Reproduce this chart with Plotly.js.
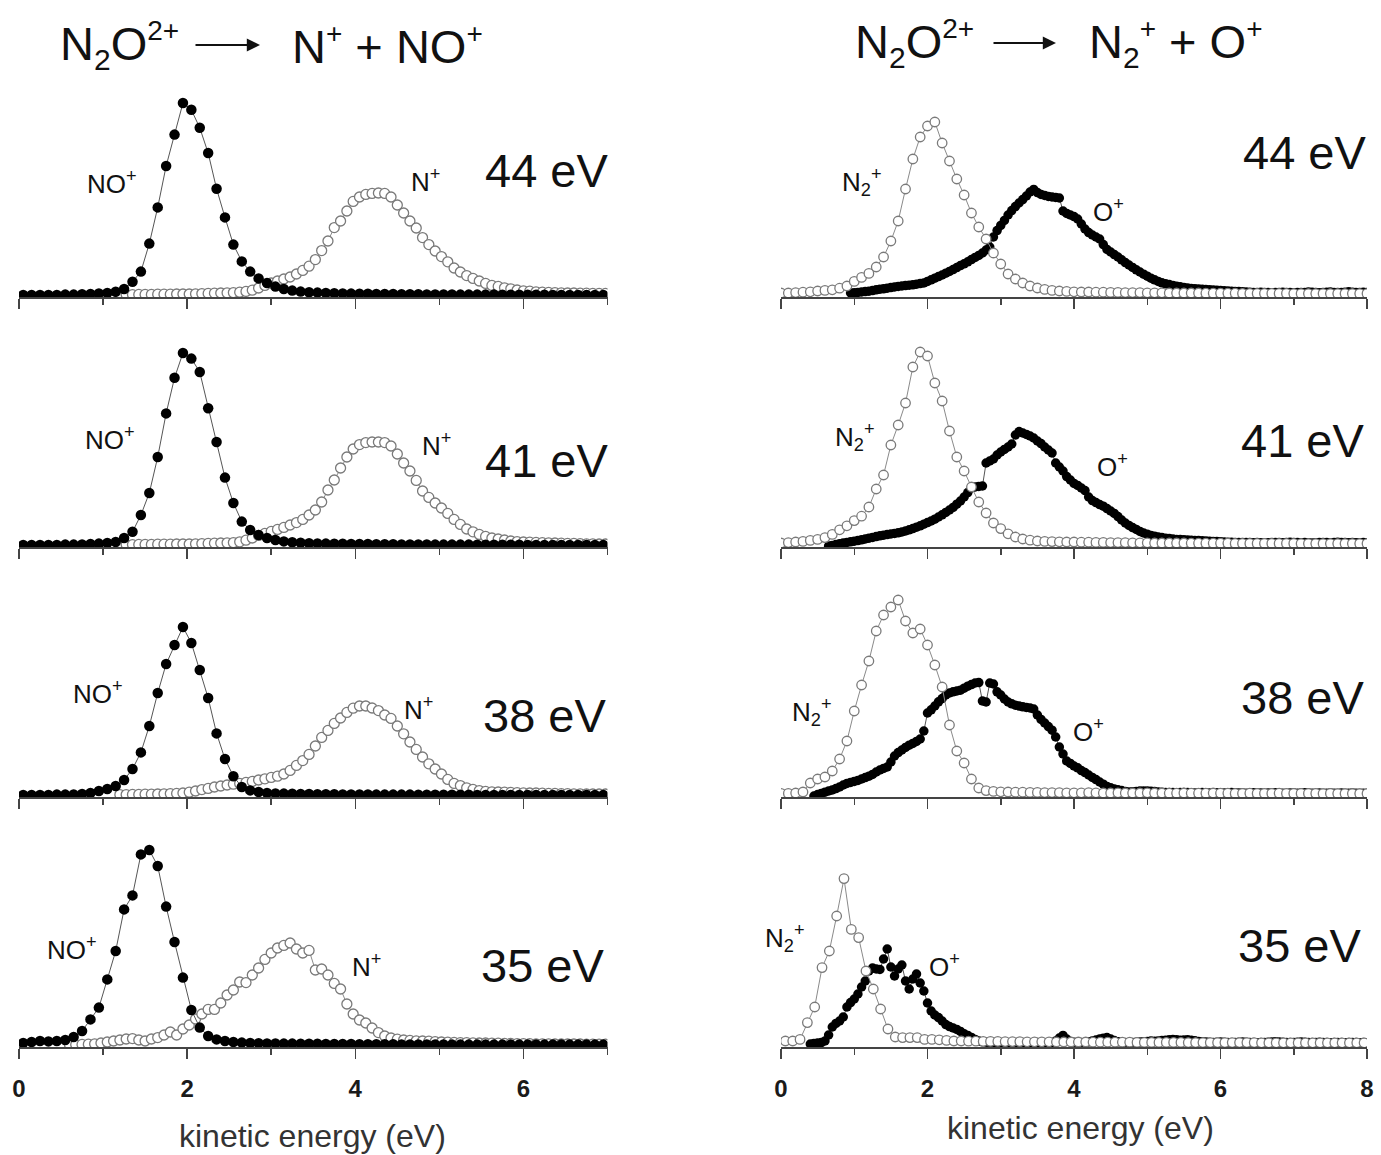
<!DOCTYPE html>
<html>
<head>
<meta charset="utf-8">
<script src="https://cdn.plot.ly/plotly-3.0.1.min.js"></script>
<style>html,body{margin:0;padding:0;background:#fff;}#chart{width:1381px;height:1155px;}</style>
</head>
<body>
<div id="chart"></div>
<script>
// ---------------- DATA ----------------
// Photon energies (eV) of the four rows, top to bottom
const photonEnergies = ["44 eV", "41 eV", "38 eV", "35 eV"];

// Left column: N2O2+ -> N+ + NO+   (intensity, arbitrary units)
// NO+ (filled): kinetic-energy grid start and step
const noX0 = 0.05, noDx = 0.1;
const no44 = [.010,.010,.010,.010,.010,.012,.012,.014,.015,.018,
  .020,.026,.040,.076,.127,.267,.448,.655,.812,.970,
  .936,.846,.720,.541,.398,.262,.178,.127,.093,.070,
  .052,.040,.032,.027,.024,.022,.020,.019,.018,.017,
  .016,.016,.015,.015,.015,.014,.014,.014,.013,.013,.013,.013,.012,.012,.012,.012,.012,.011,.011,.011,.011,.011,.011,.010,.010,.010,.010,.010,.010,.010];
const no41 = [.010,.010,.010,.010,.010,.012,.012,.013,.015,.017,
  .020,.025,.045,.076,.160,.270,.450,.668,.846,.970,
  .942,.875,.694,.525,.347,.220,.127,.085,.060,.045,
  .035,.028,.024,.021,.019,.018,.017,.016,.016,.015,
  .015,.015,.014,.014,.014,.013,.013,.013,.013,.012,.012,.012,.012,.012,.011,.011,.011,.011,.011,.011,.010,.010,.010,.010,.010,.010,.010,.010,.010,.010];
const no38 = [.010,.010,.010,.010,.012,.012,.013,.015,
  .020,.030,.040,.055,.085,.140,.223,.355,.520,.665,.760,.850,
  .770,.635,.495,.318,.190,.104,.050,.033,.025,.020,
  .018,.017,.016,.015,.015,.014,.014,.014,.013,.013,
  .013,.013,.012,.012,.012,.012,.012,.011,.011,.011,.011,.011,.011,.011,.010,.010,.010,.010,.010,.010,.010,.010,.010,.010,.010,.010,.010,.010,.010,.010];
const no35 = [.020,.025,.030,.028,.030,.035,.050,.080,.138,.197,
  .338,.480,.688,.758,.963,.985,.905,.702,.525,.347,
  .185,.097,.055,.038,.030,.025,.022,.020,.019,.018,
  .018,.017,.017,.016,.016,.016,.015,.015,.015,.015,.014,.014,.014,.014,.014,.013,.013,.013,.013,.013,.013,.012,.012,.012,.012,.012,.012,.012,.012,.012,.012,.012,.012,.012,.012,.012,.012,.012,.012,.012];

// N+ (open)
const nDx = 0.075;
const nX0 = [1.2, 1.2, 1.2, 0.6];
const n44 = [.012,.012,.012,.013,.013,.013,.014,.014,.014,.015,
  .015,.015,.016,.017,.018,.019,.020,.021,.022,.024,
  .028,.034,.045,.058,.070,.080,.090,.100,.115,.133,
  .154,.187,.232,.280,.347,.380,.430,.478,.500,.513,
  .518,.520,.518,.500,.460,.420,.380,.345,.297,.262,
  .230,.202,.176,.145,.125,.107,.093,.080,.068,.058,
  .053,.046,.041,.035,.031,.029,.026,.024,.023,.022,
  .021,.020,.020,.019,.019,.018,.018,.018];
const n41 = [.012,.012,.012,.013,.013,.013,.014,.014,.014,.015,
  .015,.015,.016,.017,.018,.019,.020,.021,.022,.026,
  .034,.045,.058,.068,.078,.088,.098,.110,.122,.138,
  .160,.185,.225,.285,.335,.395,.450,.490,.512,.522,
  .525,.525,.522,.505,.465,.420,.380,.333,.280,.248,
  .220,.195,.168,.138,.113,.090,.076,.063,.053,.045,
  .040,.035,.030,.027,.025,.024,.023,.022,.021,.020,
  .019,.018,.018,.017,.016,.016,.015,.015];
const n38 = [.012,.012,.013,.013,.014,.014,.015,.016,.017,.018,
  .020,.024,.030,.037,.043,.050,.055,.060,.064,.068,
  .073,.078,.085,.091,.098,.104,.115,.133,.158,.182,
  .213,.255,.298,.333,.368,.395,.423,.444,.455,.455,
  .445,.432,.410,.393,.355,.316,.275,.238,.200,.166,
  .140,.115,.088,.068,.057,.046,.038,.032,.028,.026,
  .025,.024,.023,.022,.021,.020,.020,.019,.018,.018,
  .017,.017,.016,.016,.015,.015,.015,.015];
const n35 = [.012,.012,.013,.014,.016,.020,.025,.030,.035,.040,
  .042,.035,.030,.040,.047,.060,.075,.060,.090,.110,
  .140,.165,.188,.188,.220,.260,.285,.325,.322,.360,
  .395,.438,.470,.495,.508,.520,.490,.470,.483,.385,
  .390,.360,.318,.290,.215,.165,.135,.120,.095,.072,
  .055,.045,.039,.035,.033,.031,.030,.029,.027,.025,
  .024,.023,.022,.022,.021,.020,.020,.019,.019,.018,.018,.017,.017,.017,.016,.016,.016,.015,.015,.015,.015,.015,.014,.014,.014,.014];

// Right column: N2O2+ -> N2+ + O+
// N2+ (open)
const n2Dx = 0.1;
const n2X0 = [0, 0, 0, 0.06];
const n2_44 = [.020,.020,.022,.024,.026,.030,.033,.036,.044,.055,
  .078,.098,.118,.150,.200,.280,.380,.540,.690,.800,
  .855,.875,.770,.680,.590,.510,.420,.350,.290,.220,
  .165,.115,.090,.070,.055,.045,.038,.033,.030,.028,
  .026,.025,.025,.024,.024,.023,.023,.022,.022,.022,.021,.021,.021,.020,.020,.020,.020,.020,.019,.019,.019,.019,.019,.018,.018,.018,.018,.018,.018,.018,.017,.017,.017,.017,.017,.017,.017,.017,.017,.017,.017];
const n2_41 = [.020,.022,.025,.028,.033,.038,.047,.063,.086,.106,
  .132,.154,.200,.290,.360,.510,.610,.720,.900,.975,
  .955,.820,.730,.580,.450,.380,.300,.225,.170,.120,
  .092,.066,.050,.040,.034,.030,
  .028,.027,.026,.025,.025,.024,.024,.023,.023,.022,.022,.022,.021,.021,.021,.020,.020,.020,.020,.020,.019,.019,.019,.019,.019,.019,.018,.018,.018,.018,.018,.018,.018,.018,.018,.017,.017,.017,.017,.017,.017,.017,.017,.017,.017];
const n2_38 = [.018,.018,.020,.025,.070,.090,.100,.130,.190,.280,
  .430,.560,.680,.830,.910,.950,.985,.880,.820,.840,
  .760,.660,.550,.360,.230,.170,.090,.045,.032,.028,
  .026,.025,.024,.024,.023,.023,.022,.022,.022,.021,.021,.021,.022,.021,.020,.020,.021,.020,.020,.020,.021,.020,.020,.019,.019,.020,.019,.019,.019,.020,.019,.019,.018,.018,.019,.018,.018,.018,.019,.018,.018,.018,.018,.018,.017,.018,.017,.017,.017,.017,.017];
const n2_35 = [.030,.030,.038,.122,.200,.397,.480,.655,.842,.588,
  .547,.380,.290,.190,.090,.050,.047,.047,.047,.038,
  .038,.036,.033,.030,
  .030,.029,.029,.028,.028,.028,.027,.027,.027,.026,.026,.026,.026,.025,.025,.025,.025,.025,.024,.024,.024,.024,.024,.024,.023,.023,.023,.023,.023,.023,.023,.022,.022,.022,.022,.022,.022,.022,.022,.022,.022,.021,.021,.021,.021,.021,.021,.021,.021,.021,.021,.021,.021,.021,.021,.021];

// O+ (filled)
const oDx = 0.05;
const oX0 = [0.95, 0.65, 0.45, 0.40];
const o44 = [.020,.021,.023,.025,.027,.029,.032,.036,.039,.041,
  .044,.047,.050,.053,.055,.057,.059,.061,.064,.067,
  .070,.078,.086,.094,.102,.110,.119,.128,.137,.147,
  .157,.166,.176,.187,.198,.208,.220,.235,.250,.300,
  .332,.358,.383,.410,.432,.452,.470,.487,.505,.525,
  .538,.522,.513,.508,.503,.500,.498,.495,.430,.418,
  .410,.402,.390,.365,.340,.322,.310,.300,.290,.262,
  .238,.225,.212,.200,.186,.172,.160,.148,.136,.125,
  .114,.104,.094,.086,.078,.071,.066,.062,.058,.054,
  .051,.048,.045,.043,.041,.040,.039,.038,.036,.035,
  .034,.033,
  .031,.030,.029,.028,.027,.026,.025,.024,.023,.023,.024,.023,.022,.021,.022,.023,.024,.023,.022,.021,
  .022,.022,.023,.025,.024,.022,.021,.022,.024,.025,.023,.022,.023,.024,.026,.024,.022,.023,.024,.022];
const o41 = [.005,.008,.012,.016,.020,.023,.026,.029,.032,.036,
  .040,.044,.048,.052,.056,.059,.062,.065,.068,.071,
  .075,.080,.086,.092,.099,.106,.114,.122,.130,.139,
  .150,.161,.173,.185,.198,.214,.230,.250,.272,.295,
  .300,.303,.305,.420,.430,.440,.460,.475,.488,.500,
  .515,.560,.577,.570,.563,.555,.545,.530,.517,.500,
  .485,.470,.420,.400,.380,.352,.335,.318,.308,.295,
  .282,.250,.232,.222,.212,.204,.192,.180,.168,.152,
  .135,.120,.108,.097,.088,.078,.070,.064,.058,.054,
  .050,.047,.044,.042,.040,.038,.037,.036,.035,.034,
  .033,.032,.031,.030,.029,.028,.027,
  .026,.025,.024,.024,.023,.022,.022,.023,.022,.021,.022,.021,.020,.021,.022,.023,.022,.021,.022,.024,
  .023,.022,.021,.022,.021,.020,.021,.022,.023,.022,.021,.022,.024,.023,.022,.021,.022,.021,.021,.022,.021];
const o38 = [.005,.012,.018,.024,.030,.035,.042,.050,.060,.068,
  .073,.078,.083,.090,.097,.104,.113,.125,.135,.143,
  .150,.175,.205,.222,.235,.248,.259,.268,.278,.290,
  .330,.420,.436,.455,.476,.492,.510,.520,.526,.530,
  .534,.544,.554,.562,.570,.572,.480,.475,.570,.565,
  .526,.510,.490,.475,.466,.459,.455,.451,.448,.445,
  .440,.410,.388,.370,.352,.334,.300,.250,.215,.180,
  .168,.155,.146,.132,.122,.110,.098,.087,.075,.064,
  .053,.046,.040,.036,.032,.028,.025,.026,.028,.030,
  .030,.030,.029,
  .027,.025,.024,.023,.022,.022,.021,.022,.023,.022,.021,.020,.021,.022,.021,.020,.020,.021,.020,.020,
  .021,.022,.021,.020,.020,.019,.020,.021,.020,.020,.019,.020,.020,.021,.020,.019,.019,.020,.020,.019,
  .020,.021,.020,.019,.019,.020,.019,.019,.020,.019,.019,.020,.019,.019,.020,.019,.019,.019,.019];
const o35 = [.015,.018,.020,.022,.030,.060,.100,.118,.130,.150,
  .200,.222,.240,.265,.300,.330,.380,.395,.390,.388,
  .440,.490,.400,.355,.390,.410,.330,.290,.340,.365,
  .320,.280,.220,.180,.160,.147,.130,.112,.102,.095,
  .088,.078,.066,.058,.048,.038,.030,.026,.024,
  .022,.021,.020,.021,.020,.020,.021,.020,.021,.022,
  .021,.020,.021,.022,.021,.020,.021,.022,.030,.045,
  .058,.040,.028,.024,.022,.023,.024,.025,.030,.035,
  .040,.044,.047,.040,.032,.026,.024,.023,.022,.023,
  .024,.025,.026,.028,.030,.029,.030,.032,.034,.036,
  .038,.036,.034,.035,.036,.034,.031,.028,.026,.025,
  .024,.023,.024,.025,.024,.023,.022,.023,.024,.025,
  .024,.023,.022,.021,.022,.023,.024,.025,.026,.025,
  .024,.023,.022,.023,.024,.025,.024,.023,.022,.023,
  .024,.023,.022,.021,.022,.023,.022,.021,.022,.023,
  .022,.021,.022,.021];

// ---------------- LAYOUT HELPERS ----------------
const W = 1381, H = 1155;
const PX = x => x / W;
const PY = y => 1 - y / H;
const FONT = "Liberation Sans, Arial, Helvetica, sans-serif";

const axisLineY = [297, 547, 797, 1047];
const plotH = 215;
const colSpec = [
  {left: 19, right: 607.5, xmax: 7},
  {left: 781, right: 1367, xmax: 8}
];

const leftOpen = [n44, n41, n38, n35];
const leftFilled = [no44, no41, no38, no35];
const rightOpen = [n2_44, n2_41, n2_38, n2_35];
const rightFilled = [o44, o41, o38, o35];

const traces = [];
const layout = {
  width: W, height: H,
  margin: {l: 0, r: 0, t: 0, b: 0},
  paper_bgcolor: "#fff", plot_bgcolor: "rgba(0,0,0,0)",
  showlegend: false,
  font: {family: FONT, color: "#222"},
  annotations: []
};

function openStyle(size) {
  return {mode: "lines+markers", line: {color: "#8a8a8a", width: 1},
    marker: {symbol: "circle", size: size, color: "#fff", line: {color: "#7a7a7a", width: 1.3}},
    hoverinfo: "skip", cliponaxis: true};
}
function filledStyle(size) {
  return {mode: "lines+markers", line: {color: "#555", width: 1},
    marker: {symbol: "circle", size: size, color: "#000", line: {width: 0}},
    hoverinfo: "skip", cliponaxis: true};
}

let idx = 0;
for (let c = 0; c < 2; c++) {
  for (let r = 0; r < 4; r++) {
    idx++;
    const xa = "x" + (idx === 1 ? "" : idx), ya = "y" + (idx === 1 ? "" : idx);
    const xk = "xaxis" + (idx === 1 ? "" : idx), yk = "yaxis" + (idx === 1 ? "" : idx);
    const cs = colSpec[c];
    layout[xk] = {
      domain: [PX(cs.left), PX(cs.right)], range: [0, cs.xmax], anchor: ya,
      showline: true, linecolor: "#444", linewidth: 1.5,
      ticks: "outside", ticklen: 10, tickwidth: 1.5, tickcolor: "#444",
      tick0: 0, dtick: 2,
      minor: {ticks: "outside", ticklen: 6, tickwidth: 1.5, tickcolor: "#444", dtick: 1, tick0: 0, showgrid: false},
      showticklabels: r === 3,
      tickfont: {family: FONT, size: 24, color: "#1a1a1a", weight: "bold"},
      ticklabelstandoff: 10,
      showgrid: false, zeroline: false, fixedrange: true
    };
    layout[yk] = {
      domain: [PY(axisLineY[r]), PY(axisLineY[r] - plotH)], range: [0, 1.075],
      anchor: xa, visible: false, fixedrange: true
    };
    if (c === 0) {
      traces.push(Object.assign({x0: nX0[r], dx: nDx, y: leftOpen[r], xaxis: xa, yaxis: ya, type: "scatter"}, openStyle(10)));
      traces.push(Object.assign({x0: noX0, dx: noDx, y: leftFilled[r], xaxis: xa, yaxis: ya, type: "scatter"}, filledStyle(10.5)));
    } else {
      traces.push(Object.assign({x0: oX0[r], dx: oDx, y: rightFilled[r], xaxis: xa, yaxis: ya, type: "scatter"}, filledStyle(9.5)));
      traces.push(Object.assign({x0: n2X0[r], dx: n2Dx, y: rightOpen[r], xaxis: xa, yaxis: ya, type: "scatter"}, openStyle(9.5)));
    }
  }
}

function ann(text, x, y, size, xanchor, extra) {
  layout.annotations.push(Object.assign({
    text: text, x: PX(x), y: PY(y), xref: "paper", yref: "paper",
    xanchor: xanchor || "center", yanchor: "middle", showarrow: false,
    font: {family: FONT, size: size, color: "#111"}
  }, extra || {}));
}
const SUPT = s => "<sup><span style='font-size:28px'>" + s + "</span></sup>";
const SUBT = s => "<sub><span style='font-size:30px'>" + s + "</span></sub>";

// Titles
ann("N" + SUBT("2") + "O" + SUPT("2+"), 58, 45, 47, "left");
ann("N" + SUPT("+") + " + NO" + SUPT("+"), 290, 45, 47, "left");
ann("N" + SUBT("2") + "O" + SUPT("2+"), 853, 43, 47, "left");
ann("N" + SUBT("2") + SUPT("+") + " + O" + SUPT("+"), 1087, 43, 47, "left");
// arrows
layout.annotations.push({x: PX(260), y: PY(45), xref: "paper", yref: "paper", text: "", showarrow: true,
  ax: -66, ay: 0, arrowhead: 2, arrowsize: 1.2, arrowwidth: 2.2, arrowcolor: "#111"});
layout.annotations.push({x: PX(1056), y: PY(43), xref: "paper", yref: "paper", text: "", showarrow: true,
  ax: -64, ay: 0, arrowhead: 2, arrowsize: 1.2, arrowwidth: 2.2, arrowcolor: "#111"});

// Photon energy labels
const leftELab = [[610, 170], [610, 460], [608, 715], [606, 966]];
const rightELab = [[1368, 152], [1366, 440], [1366, 697], [1363, 945]];
for (let r = 0; r < 4; r++) {
  ann(photonEnergies[r], leftELab[r][0], leftELab[r][1], 47, "right");
  ann(photonEnergies[r], rightELab[r][0], rightELab[r][1], 47, "right");
}

// Species labels
const speciesLabels = [
  ["NO<sup>+</sup>", 112, 182], ["N<sup>+</sup>", 425, 180],
  ["NO<sup>+</sup>", 110, 438], ["N<sup>+</sup>", 436, 444],
  ["NO<sup>+</sup>", 98, 692], ["N<sup>+</sup>", 418, 708],
  ["NO<sup>+</sup>", 72, 948], ["N<sup>+</sup>", 366, 965],
  ["N<sub>2</sub><sup>+</sup>", 862, 182], ["O<sup>+</sup>", 1108, 210],
  ["N<sub>2</sub><sup>+</sup>", 855, 437], ["O<sup>+</sup>", 1112, 465],
  ["N<sub>2</sub><sup>+</sup>", 812, 712], ["O<sup>+</sup>", 1088, 730],
  ["N<sub>2</sub><sup>+</sup>", 785, 938], ["O<sup>+</sup>", 945, 965]
];
speciesLabels.forEach(s => ann(s[0], s[1], s[2], 26, "center"));

// Axis titles
ann("kinetic energy (eV)", 312, 1136, 32, "center", {font: {family: FONT, size: 32, color: "#333"}});
ann("kinetic energy (eV)", 1080, 1128, 32, "center", {font: {family: FONT, size: 32, color: "#333"}});

Plotly.newPlot("chart", traces, layout, {staticPlot: true, displayModeBar: false});
</script>
</body>
</html>
